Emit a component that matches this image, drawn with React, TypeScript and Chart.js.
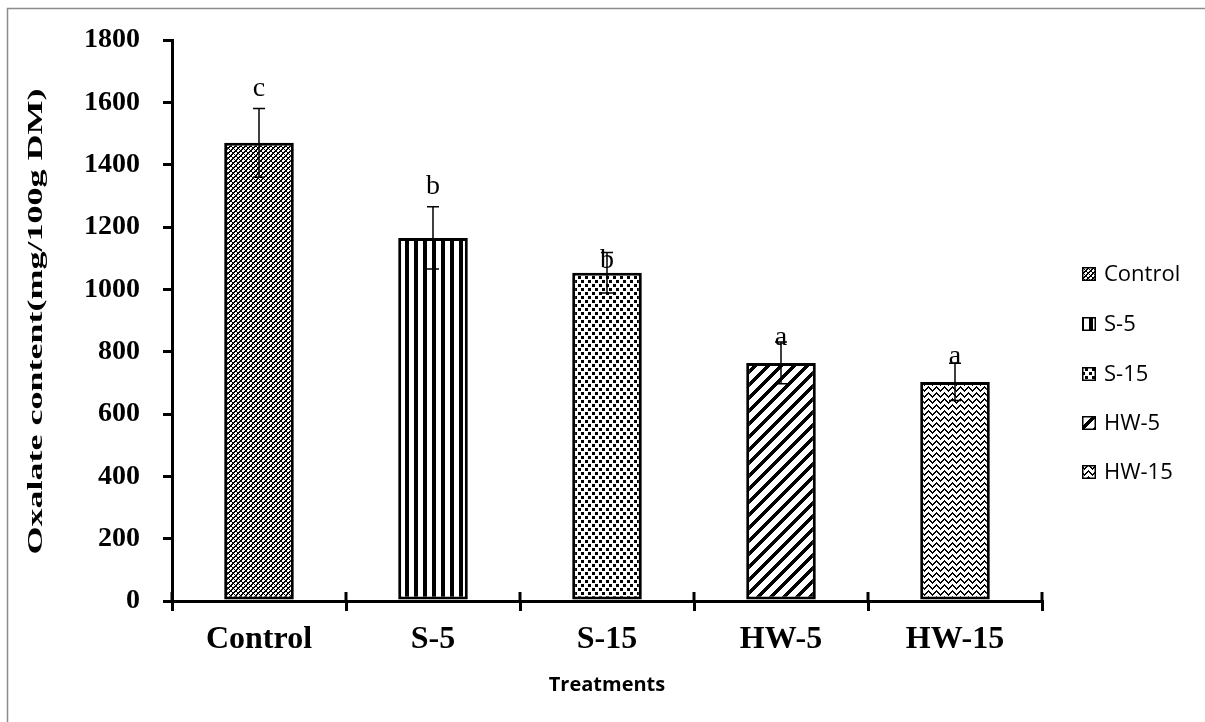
import React, { useEffect, useRef } from "react";
import { Chart, registerables } from "chart.js";

Chart.register(...registerables);

const categories = ["Control", "S-5", "S-15", "HW-5", "HW-15"];
const oxalate = [1470, 1165, 1053, 764, 703];
const errors = [110, 100, 65, 67, 60];
const letters = ["c", "b", "b", "a", "a"];
const letterValues = [1620, 1305, 1070, 822, 762];
const yTicks = [0, 200, 400, 600, 800, 1000, 1200, 1400, 1600, 1800];
const yTitle = "Oxalate content(mg/100g DM)";
const xTitle = "Treatments";

function makePattern(w: number, h: number, fn: (x: number, y: number) => boolean) {
  const c = document.createElement("canvas");
  c.width = w;
  c.height = h;
  const ctx = c.getContext("2d")!;
  const img = ctx.createImageData(w, h);
  for (let y = 0; y < h; y++) {
    for (let x = 0; x < w; x++) {
      const i = (y * w + x) * 4;
      const v = fn(x, y) ? 0 : 255;
      img.data[i] = v;
      img.data[i + 1] = v;
      img.data[i + 2] = v;
      img.data[i + 3] = 255;
    }
  }
  ctx.putImageData(img, 0, 0);
  return ctx.createPattern(c, "repeat")!;
}

function buildPatterns() {
  return [
    makePattern(5, 5, (x, y) => (x + y) % 5 < 2 || (x - y + 50) % 5 < 1),
    makePattern(9, 1, (x) => x % 9 < 4),
    makePattern(7, 8, (x, y) => (x < 3 && y < 3) || (x >= 4 && y >= 4 && y < 7)),
    makePattern(13, 13, (x, y) => (x + y) % 13 < 5),
    makePattern(8, 6, (x, y) => {
      const tri = Math.abs((x % 8) - 4);
      return (y + tri) % 6 < 2;
    }),
  ];
}

export default function App() {
  const ref = useRef<HTMLCanvasElement>(null);

  useEffect(() => {
    const canvas = ref.current!;
    const patterns = buildPatterns();

    const framePlugin = {
      id: "frame",
      beforeDraw(chart: any) {
        const ctx = chart.ctx;
        ctx.save();
        ctx.fillStyle = "#fff";
        ctx.fillRect(0, 0, chart.width, chart.height);
        ctx.strokeStyle = "#8c8c8c";
        ctx.lineWidth = 1.5;
        ctx.beginPath();
        ctx.moveTo(7.5, chart.height);
        ctx.lineTo(7.5, 8.5);
        ctx.lineTo(chart.width, 8.5);
        ctx.stroke();
        ctx.restore();
      },
    };

    const extrasPlugin = {
      id: "extras",
      afterDraw(chart: any) {
        const ctx = chart.ctx;
        const ys = chart.scales.y;
        const area = chart.chartArea;
        const meta = chart.getDatasetMeta(0);
        ctx.save();
        // upper part of x-axis ticks
        ctx.strokeStyle = "#000";
        ctx.lineWidth = 3;
        const step = (area.right - area.left) / categories.length;
        for (let i = 0; i <= categories.length; i++) {
          const x = area.left + i * step;
          ctx.beginPath();
          ctx.moveTo(x, area.bottom);
          ctx.lineTo(x, area.bottom - 9);
          ctx.stroke();
        }
        // error bars + letters
        ctx.lineWidth = 1.5;
        meta.data.forEach((bar: any, i: number) => {
          const x = bar.x;
          const top = ys.getPixelForValue(oxalate[i] + errors[i]);
          const bot = ys.getPixelForValue(oxalate[i] - errors[i]);
          ctx.beginPath();
          ctx.moveTo(x, top);
          ctx.lineTo(x, bot);
          ctx.moveTo(x - 6, top);
          ctx.lineTo(x + 6, top);
          ctx.moveTo(x - 6, bot);
          ctx.lineTo(x + 6, bot);
          ctx.stroke();
          ctx.fillStyle = "#000";
          ctx.font = "28px 'Liberation Serif'";
          ctx.textAlign = "center";
          ctx.textBaseline = "alphabetic";
          ctx.fillText(letters[i], x, ys.getPixelForValue(letterValues[i]));
        });
        // y-axis title (stretched like the original)
        ctx.save();
        ctx.translate(37, (area.top + area.bottom) / 2 + 1);
        ctx.rotate(-Math.PI / 2);
        ctx.font = "bold 21px 'Liberation Serif'";
        const w = ctx.measureText(yTitle).width;
        ctx.scale(466 / w, 1);
        ctx.fillStyle = "#000";
        ctx.textAlign = "center";
        ctx.textBaseline = "middle";
        ctx.fillText(yTitle, 0, 0);
        ctx.restore();
        // x-axis title
        ctx.fillStyle = "#000";
        ctx.font = "bold 20px 'Open Sans'";
        ctx.textAlign = "center";
        ctx.textBaseline = "middle";
        ctx.fillText(xTitle, (area.left + area.right) / 2, 685);
        // legend
        const legendY = [274, 324, 374, 423, 472];
        categories.forEach((c, i) => {
          const bx = 1082;
          const by = legendY[i] - 7;
          ctx.fillStyle = patterns[i];
          ctx.fillRect(bx, by, 14, 14);
          ctx.strokeStyle = "#000";
          ctx.lineWidth = 1.5;
          ctx.strokeRect(bx + 0.75, by + 0.75, 12.5, 12.5);
          ctx.fillStyle = "#000";
          ctx.font = "22px 'Open Sans'";
          ctx.textAlign = "left";
          ctx.textBaseline = "middle";
          ctx.fillText(c, 1104, legendY[i] + 1);
        });
        ctx.restore();
      },
    };

    const chart = new Chart(canvas, {
      type: "bar",
      data: {
        labels: categories,
        datasets: [
          {
            label: "Oxalate content",
            data: oxalate,
            backgroundColor: patterns as any,
            borderColor: "#000",
            borderWidth: 3,
            borderSkipped: false,
            categoryPercentage: 1,
            barPercentage: 0.4,
          },
        ],
      },
      options: {
        responsive: false,
        animation: false,
        devicePixelRatio: 1,
        layout: { padding: { left: 0, right: 163, top: 40, bottom: 0 } },
        plugins: { legend: { display: false }, tooltip: { enabled: false } },
        scales: {
          x: {
            grid: {
              display: true,
              drawOnChartArea: false,
              drawTicks: true,
              tickLength: 10,
              color: "#000",
              lineWidth: 3,
              offset: true,
            },
            border: { color: "#000", width: 3 },
            ticks: {
              color: "#000",
              padding: 10,
              font: { family: "'Liberation Serif'", size: 32, weight: "bold" },
              maxRotation: 0,
            },
            afterFit: (s: any) => {
              s.height = 121;
            },
          },
          y: {
            min: 0,
            max: 1800,
            afterBuildTicks: (s: any) => {
              s.ticks = yTicks.map((v) => ({ value: v }));
            },
            grid: {
              drawOnChartArea: false,
              drawTicks: true,
              tickLength: 9,
              color: "#000",
              lineWidth: 3,
            },
            border: { color: "#000", width: 3 },
            ticks: {
              color: "#000",
              padding: 23,
              font: { family: "'Liberation Serif'", size: 28, weight: "bold" },
              callback: (v: any) => String(v),
            },
            afterFit: (s: any) => {
              s.width = 172;
            },
          },
        },
      },
      plugins: [framePlugin, extrasPlugin],
    });
    return () => chart.destroy();
  }, []);

  return (
    <div style={{ position: "absolute", left: 0, top: 0, width: 1205, height: 722, background: "#fff" }}>
      <canvas ref={ref} width={1205} height={722} style={{ display: "block" }} />
    </div>
  );
}
